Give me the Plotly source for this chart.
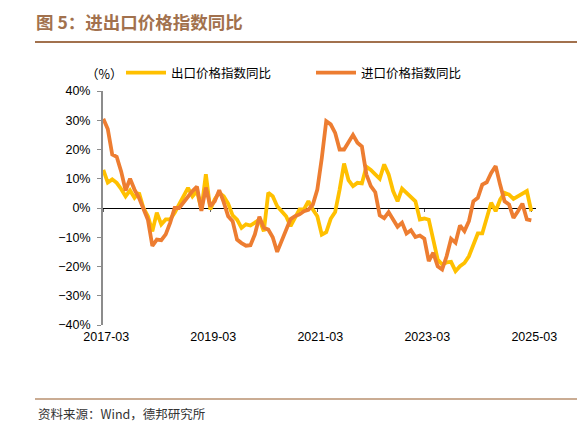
import plotly.graph_objects as go

# ---- data ----
months = []
y, m = 2017, 3
for _ in range(97):
    months.append(f"{y}-{m:02d}")
    m += 1
    if m > 12:
        m = 1
        y += 1

export_yoy = [13, 8.7, 9.8, 8.6, 6.5, 4, 6, 3.5, 5.2, 0,
              -2.8, -8, -1.6, -5.6, -3.9, -3.9, -1.6, 1.2, 4.6, 6.9,
              4, 5.8, -0.5, 11.5, -0.5, 3, 5.2, 4, 1.5, -2.5,
              -4, -6.8, -5.6, -6, -5, -3.9, -8, 5.2, 4, 0.6,
              -1.1, -2.8, -6.2, -3.4, -0.5, -0.5, 2.3, -0.5, -2.8, -9.1,
              -8.3, -3.7, -1.4, 6.3, 15.2, 9.5, 7.5, 8.6, 8.4, 14.1,
              13, 11.5, 10, 14.9, 11.5, 5.8, 2.3, 6.6, 5.2, 3.5,
              2.3, -3.9, -3.6, -4, -10.5, -17.6, -19.3, -18.6, -18.4, -21.6,
              -19.9, -18.8, -16.5, -12.5, -8.7, -8.7, -3.9, 1.8, -1.1, 2.9,
              5.2, 4.6, 3.1, 4, 4.8, 5.8, -1.1]

import_yoy = [30.5, 27, 18.3, 17.5, 12.5, 6, 10, 6.3, 3.5, 0,
              -4, -13, -10.8, -11, -9, -5, 0, 0, 2, 4,
              5.8, 7.3, -1, 7, 0.6, 2.3, 6.1, 2, -2.8, -4.5,
              -10.8, -12, -12.9, -12.7, -9, -3, -6.8, -7.4, -10, -15,
              -11, -7, -3.8, -2.8, -2.2, -1.1, -0.6, 1.2, 6.3, 17,
              29.7, 28.6, 25.7, 20, 20, 22.5, 25, 22.3, 21, 11.5,
              7.5, 5.4, -2.5, -3.5, -1.4, -3.9, -6.4, -5, -8.7, -7.6,
              -9.9, -9.4, -10.5, -18.2, -15.3, -19.9, -21, -16.5, -10.5, -11.9,
              -6, -7.9, -4.5, 2.3, 3.5, 8, 8.8, 12, 14.3, 8,
              2.3, 1.2, -3.4, -1.1, 1.5, -3.9, -4.2]

tick_labels = ["2017-03", "2019-03", "2021-03", "2023-03", "2025-03"]
tick_index = [months.index(t) for t in tick_labels]

names = ["出口价格指数同比", "进口价格指数同比"]
colors = ["#FFC000", "#ED7D31"]

# ---- layout geometry (px) ----
W, H = 577, 432
L, R, T, B = 103, 536, 91, 325

def px_x(px):
    return (px - L) / (R - L)

def px_y(py):
    return (B - py) / (B - T)

brown = "#A2714D"
cjk = "Noto Sans CJK SC"
latin = "Liberation Sans, Arial, sans-serif"

fig = go.Figure()
fig.add_trace(go.Scatter(x=months, y=export_yoy, mode="lines", name=names[0],
                         legend="legend", line=dict(color=colors[0], width=3.8)))
fig.add_trace(go.Scatter(x=months, y=import_yoy, mode="lines", name=names[1],
                         legend="legend2", line=dict(color=colors[1], width=3.8)))
# helper trace to carry the zero-level tick axis
fig.add_trace(go.Scatter(x=[], y=[], xaxis="x2", showlegend=False, hoverinfo="skip"))

xr = [-0.07, len(months) - 1 + 1.05]

legend_common = dict(orientation="h", xanchor="left", y=px_y(73), yanchor="middle",
                     font=dict(family=cjk, size=12.5, color="#000000"),
                     itemwidth=40, bgcolor="rgba(0,0,0,0)")

fig.update_layout(
    width=W, height=H,
    margin=dict(l=L, r=W - R, t=T, b=H - B, pad=0, autoexpand=False),
    paper_bgcolor="white", plot_bgcolor="white",
    title=dict(text="<b>图 5：进出口价格指数同比</b>", x=36 / W, xref="container",
               xanchor="left", y=1 - 23 / H, yref="container", yanchor="middle",
               font=dict(family=cjk, size=17.5, color=brown)),
    xaxis=dict(type="category", range=xr, tickmode="array", tickvals=tick_labels,
               ticktext=tick_labels, showgrid=False, showline=False, ticks="",
               zeroline=False, ticklabelshift=3, ticklabelstandoff=2,
               tickfont=dict(family=latin, size=12.5, color="#000000")),
    xaxis2=dict(overlaying="x", anchor="free", position=0.5, range=xr,
                tickmode="array", tickvals=tick_index, showticklabels=False,
                ticks="outside", ticklen=3, tickcolor="#606060", tickwidth=1,
                showline=False, showgrid=False, zeroline=False, layer="below traces"),
    yaxis=dict(range=[-40, 40], dtick=10, ticksuffix="%", showgrid=False,
               showline=True, linecolor="#8C8C8C", linewidth=2,
               ticks="outside", ticklen=4, tickcolor="#8C8C8C", tickwidth=1,
               zeroline=True, zerolinecolor="#000000", zerolinewidth=1,
               ticklabelstandoff=4,
               tickfont=dict(family=latin, size=12.5, color="#000000")),
    legend=dict(x=px_x(121), **legend_common),
    legend2=dict(x=px_x(311), **legend_common),
    showlegend=True,
)

fig.add_annotation(text="（%）", xref="paper", yref="paper", x=px_x(104), y=px_y(73),
                   xanchor="center", yanchor="middle", showarrow=False,
                   font=dict(family=cjk, size=12.5, color="#000000"))
fig.add_annotation(text="资料来源：Wind，德邦研究所", xref="paper", yref="paper",
                   x=px_x(36), y=px_y(413), xanchor="left", yanchor="middle", showarrow=False,
                   font=dict(family=cjk, size=12.5, color="#333333"))

fig.add_shape(type="line", xref="paper", yref="paper", x0=px_x(35), x1=px_x(577),
              y0=px_y(42), y1=px_y(42), line=dict(color=brown, width=2.2))
fig.add_shape(type="line", xref="paper", yref="paper", x0=px_x(35), x1=px_x(577),
              y0=px_y(399), y1=px_y(399), line=dict(color="#B8906F", width=1.5))

fig.write_html("out.html", config={"displayModeBar": False},
               post_script="document.body.style.margin='0';document.body.style.padding='0';")
